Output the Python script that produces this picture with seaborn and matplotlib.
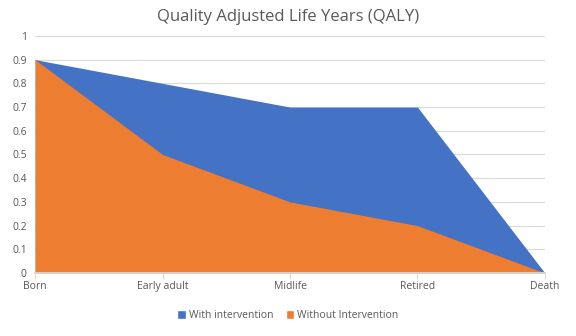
import matplotlib
matplotlib.use("Agg")
import matplotlib.pyplot as plt
import seaborn as sns
import pandas as pd
import numpy as np
from matplotlib.patches import Patch

categories = ["Born", "Early adult", "Midlife", "Retired", "Death"]
with_intervention = [0.9, 0.8, 0.7, 0.7, 0.0]
without_intervention = [0.9, 0.5, 0.3, 0.2, 0.0]
yticks = [0, 0.1, 0.2, 0.3, 0.4, 0.5, 0.6, 0.7, 0.8, 0.9, 1]

df = pd.DataFrame({"stage": categories, "With intervention": with_intervention,
                   "Without Intervention": without_intervention})
df["pos"] = np.arange(len(categories))

sns.set_theme(style="white")
plt.rcParams['font.family'] = ['Open Sans', 'DejaVu Sans']

blue = "#4472C4"
orange = "#ED7D31"
grey = "#595959"

fig = plt.figure(figsize=(5.76, 3.36), dpi=100)
ax = fig.add_axes([0.061, 0.1875, 0.885, 0.7055])

ax.yaxis.grid(True, color="#D9D9D9", linewidth=0.8)
ax.set_axisbelow(True)

sns.lineplot(data=df, x="pos", y="With intervention", ax=ax, color=blue, linewidth=0)
sns.lineplot(data=df, x="pos", y="Without Intervention", ax=ax, color=orange, linewidth=0)
ax.fill_between(df["pos"], df["With intervention"], color=blue, linewidth=0, zorder=2)
ax.fill_between(df["pos"], df["Without Intervention"], color=orange, linewidth=0, zorder=3)

ax.set_xlim(0, len(categories) - 1)
ax.set_ylim(0, 1)
ax.set_yticks(yticks)
ax.set_yticklabels([f"{v:g}" for v in yticks])
ax.set_xticks(df["pos"])
ax.set_xticklabels(categories)
ax.set_xlabel("")
ax.set_ylabel("")

for s in ["top", "right", "left"]:
    ax.spines[s].set_visible(False)
ax.spines["bottom"].set_color("#D9D9D9")
ax.spines["bottom"].set_zorder(4)

ax.tick_params(axis="x", colors=grey, labelsize=7.5, length=4, width=0.8, color="#D9D9D9",
               bottom=True, pad=2)
ax.tick_params(axis="y", colors=grey, labelsize=7.5, length=0, pad=6)
for lbl in ax.get_xticklabels() + ax.get_yticklabels():
    lbl.set_color(grey)

fig.suptitle("Quality Adjusted Life Years (QALY)", x=0.5, y=0.95, va="center",
             fontsize=12, color=grey)

handles = [Patch(facecolor=blue, label="With intervention"),
           Patch(facecolor=orange, label="Without Intervention")]
leg = fig.legend(handles=handles, loc="center", bbox_to_anchor=(0.5, 0.062), ncol=2,
                 frameon=False, fontsize=7.5, handlelength=0.8, handleheight=1.0,
                 handletextpad=0.3, columnspacing=1.2)
for t in leg.get_texts():
    t.set_color(grey)

fig.savefig("out.png", dpi=100)
